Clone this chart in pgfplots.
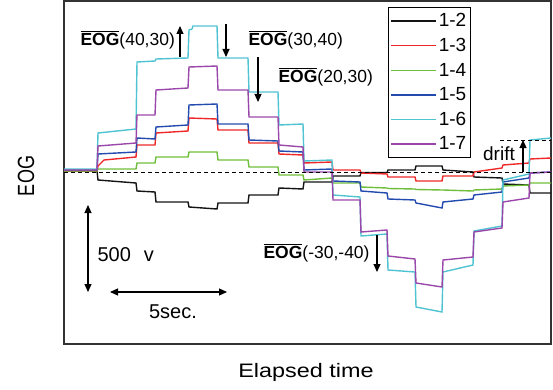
\documentclass[border=0pt]{standalone}
\usepackage{fontspec}
\setmainfont{Liberation Sans}
\usepackage{graphicx}
\usepackage{pgfplots}
\pgfplotsset{compat=1.18}
\usetikzlibrary{arrows.meta}
\definecolor{cblack}{RGB}{20,20,20}
\definecolor{cred}{RGB}{238,40,40}
\definecolor{cgreen}{RGB}{110,190,60}
\definecolor{cblue}{RGB}{35,75,175}
\definecolor{ccyan}{RGB}{80,195,210}
\definecolor{cpurple}{RGB}{155,70,170}
\newcommand{\ovl}[1]{\ensuremath{\overline{\mbox{\bfseries #1}}}}
\begin{document}
\begin{tikzpicture}
\begin{axis}[
  scale only axis, width=487pt, height=343pt,
  xmin=64, xmax=551, ymin=1, ymax=344, y dir=reverse,
  xtick=\empty, ytick=\empty,
  axis line style={draw=black!80, line width=1.2pt},
  clip=false,
  legend style={at={(axis cs:388,7)}, anchor=north west, draw=black, line width=0.9pt,
    font=\fontsize{19}{19}\selectfont, inner xsep=2pt, inner ysep=4pt, row sep=6pt,
    cells={anchor=west}},
  legend image code/.code={\draw[#1] (0pt,0pt) -- (45pt,0pt);},
  every axis plot/.append style={line width=1.4pt},
]
\addplot[cblack] coordinates {(64,171)(97,171)(98,180)(136,183)(137,191)(155,192)(156,202)(188,202)(189,207)(217,209)(218,203)(248,203)(249,195)(278,195)(279,188)(303,189)(304,182)(332,182)(333,176)(360,176)(361,172.5)(387,172.5)(388,170)(415,170)(416,166)(442,166)(443,170)(473,172)(474,177)(502,178)(503,184)(529,185)(530,193)(551,193)};
\addlegendentry{1-2}
\addplot[cred] coordinates {(64,171)(97,171)(98,166)(104,160)(136,157)(137,145)(155,145)(156,133)(188,131)(189,118)(217,119)(218,130)(248,130)(249,143)(278,143)(279,154)(303,155)(304,163)(332,162)(333,170)(360,170)(361,173)(387,174)(388,177)(415,177)(416,181)(442,181)(443,176)(473,176)(474,172)(502,168)(503,165)(529,163)(530,159)(551,158)};
\addlegendentry{1-3}
\addplot[cgreen] coordinates {(64,171)(97,171)(98,169)(136,169)(137,163)(155,163)(156,157)(188,157)(189,152)(217,152)(218,160)(248,160)(249,167)(278,167)(279,175)(303,175)(304,180)(332,178)(333,183)(360,183)(361,187)(387,188)(388,188.5)(415,189)(416,189.5)(442,190)(443,190)(473,191)(474,190)(502,189)(503,186)(529,185)(530,183)(551,183)};
\addlegendentry{1-4}
\addplot[cblue] coordinates {(64,170)(97,170)(98,154)(136,152)(137,138)(155,139)(156,127)(188,125)(189,105)(217,104)(218,124)(248,124)(249,140)(278,141)(279,151)(303,152)(304,170)(332,169)(333,181)(360,182)(361,191)(387,193)(388,199)(415,200)(416,203)(442,208)(443,202)(473,199)(474,195)(502,192)(503,182)(529,178)(530,173)(551,172)};
\addlegendentry{1-5}
\addplot[ccyan] coordinates {(64,169)(97,169)(98,133)(136,129)(137,62)(155,61)(156,59)(188,58)(189,30)(192,29)(193,26)(217,26)(218,58)(248,58)(249,92)(278,92)(279,125)(303,124)(304,161)(332,160)(333,195)(360,197)(361,236)(387,234)(388,270)(415,272)(416,307)(442,312)(443,272)(473,265)(474,231)(502,226)(503,180)(529,174)(530,140)(551,138)};
\addlegendentry{1-6}
\addplot[cpurple] coordinates {(64,170)(97,170)(98,146)(136,143)(137,115)(155,115)(156,90)(188,88)(189,67)(217,66)(218,90)(248,90)(249,117)(278,117)(279,145)(303,147)(304,172)(332,172)(333,200)(360,200)(361,232)(387,230)(388,256)(415,259)(416,283)(442,287)(443,260)(473,257)(474,232)(502,228)(503,202)(529,198)(530,173)(551,172)};
\addlegendentry{1-7}
\addplot[forget plot, black, line width=0.9pt, dash pattern=on 4pt off 3pt] coordinates {(64,172)(551,172)};
\addplot[forget plot, black, line width=0.9pt, dash pattern=on 4pt off 3pt] coordinates {(500,140)(551,140)};
% annotations
\begin{scope}[every node/.style={inner sep=0pt}, line width=1.1pt]
\node[anchor=west, font=\fontsize{17.5}{18}\selectfont] at (axis cs:80,40) {\ovl{EOG}(40,30)};
\node[anchor=west, font=\fontsize{17.5}{18}\selectfont] at (axis cs:248,40) {\ovl{EOG}(30,40)};
\node[anchor=west, font=\fontsize{17.5}{18}\selectfont] at (axis cs:278,77) {\ovl{EOG}(20,30)};
\node[anchor=west, font=\fontsize{17.5}{18}\selectfont] at (axis cs:263,253) {\ovl{EOG}(-30,-40)};
\draw[-{Triangle[length=8pt,width=7pt]}] (axis cs:180,57) -- (axis cs:180,26);
\draw[-{Triangle[length=8pt,width=7pt]}] (axis cs:226,24) -- (axis cs:226,57);
\draw[-{Triangle[length=8pt,width=7pt]}] (axis cs:258,57) -- (axis cs:258,102);
\draw[-{Triangle[length=8pt,width=7pt]}] (axis cs:377,235) -- (axis cs:377,272);
\draw[{Triangle[length=8pt,width=7pt]}-{Triangle[length=8pt,width=7pt]}] (axis cs:88,205) -- (axis cs:88,292);
\draw[{Triangle[length=8pt,width=7pt]}-{Triangle[length=8pt,width=7pt]}] (axis cs:110,292) -- (axis cs:227,292);
\node[anchor=west, font=\fontsize{20}{20}\selectfont] at (axis cs:97,255) {500\hspace{13pt}v};
\node[font=\fontsize{20}{20}\selectfont] at (axis cs:173,312) {5sec.};
\draw[-{Triangle[length=8pt,width=7pt]}] (axis cs:523,172) -- (axis cs:523,140);
\node[font=\fontsize{19}{19}\selectfont] at (axis cs:499,154) {drift};
\node[font=\fontsize{19.5}{20}\selectfont] at (axis cs:306,372) {\scalebox{1.2}[1]{Elapsed time}};
\node[rotate=90, font=\fontsize{18}{18}\selectfont] at (axis cs:26,176) {\scalebox{1}[1.3]{EOG}};
\end{scope}
\coordinate (p1) at (axis cs:0,0);
\coordinate (p2) at (axis cs:553,390);
\end{axis}
\pgfresetboundingbox
\path (p1) rectangle (p2);
\end{tikzpicture}
\end{document}
